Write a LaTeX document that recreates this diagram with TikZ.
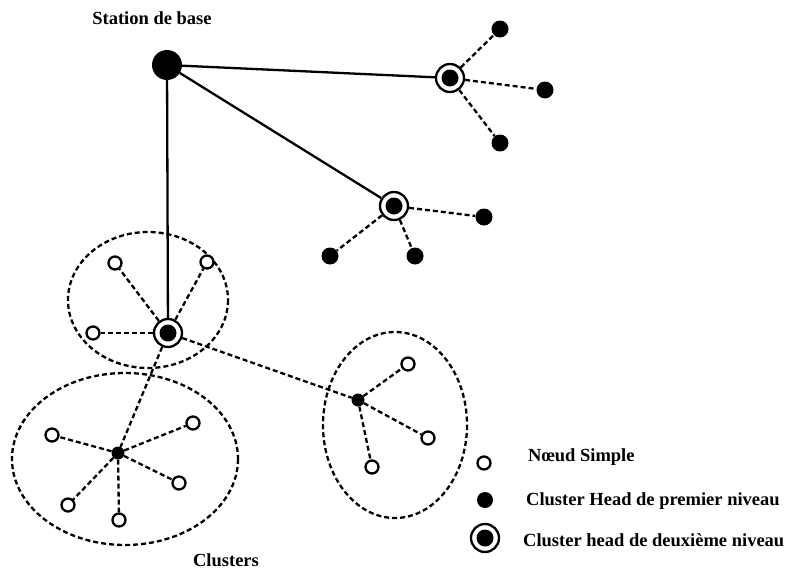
\documentclass[tikz,border=0pt]{standalone}
\usepackage{fontspec}
\setmainfont{Liberation Serif}
\begin{document}
\begin{tikzpicture}[x=1pt,y=-1pt,
  lbl/.style={font=\fontsize{18.5}{22}\selectfont\bfseries, inner sep=0pt},
  simple/.style={circle, draw, line width=2.3pt, fill=white, minimum size=13pt, inner sep=0pt},
  chone/.style={circle, fill=black, minimum size=17pt, inner sep=0pt},
  chsmall/.style={circle, fill=black, minimum size=13pt, inner sep=0pt},
  ringbox/.style={circle, draw, line width=2.3pt, fill=white, minimum size=28pt, inner sep=0pt,
    path picture={\fill[black] (path picture bounding box.center) circle (8.5pt);}},
  base/.style={circle, fill=black, minimum size=30pt, inner sep=0pt},
  link/.style={line width=2.3pt},
  dlink/.style={line width=2.3pt, dash pattern=on 5pt off 3pt},
  cluster/.style={line width=2.3pt, dash pattern=on 5pt off 3pt}
]
\useasboundingbox (0,0) rectangle (796,570);

% cluster outlines
\draw[cluster] (148,300) ellipse [x radius=80, y radius=68];
\draw[cluster] (125,459) ellipse [x radius=113, y radius=86];
\draw[cluster] (395,425) ellipse [x radius=72, y radius=93];

% base station and second-level cluster heads
\node[base] (bs) at (167,65) {};
\node[lbl] (bslbl) at (152,18) {Station de base};
\node[ringbox] (a) at (450,78) {};
\node[ringbox] (b) at (394,206) {};
\node[ringbox] (c) at (168,333) {};

% first-level cluster heads
\node[chone] (a1) at (500,29) {};
\node[chone] (a2) at (545,90) {};
\node[chone] (a3) at (500,143) {};
\node[chone] (b1) at (484,217) {};
\node[chone] (b2) at (330,256) {};
\node[chone] (b3) at (415,256) {};
\node[chsmall] (d) at (358,400) {};
\node[chsmall] (e) at (118,453) {};

% simple nodes
\node[simple] (c1) at (115,263) {};
\node[simple] (c2) at (207,262) {};
\node[simple] (c3) at (93,333) {};
\node[simple] (e1) at (52,435) {};
\node[simple] (e2) at (193,423) {};
\node[simple] (e3) at (179,483) {};
\node[simple] (e4) at (68,505) {};
\node[simple] (e5) at (119,520) {};
\node[simple] (d1) at (408,364) {};
\node[simple] (d2) at (428,438) {};
\node[simple] (d3) at (372,467) {};

% solid links to the base station
\draw[link] (bs) -- (a);
\draw[link] (bs) -- (b);
\draw[link] (bs) -- (c);

% dashed links inside clusters
\foreach \n in {a1,a2,a3} \draw[dlink] (a) -- (\n);
\foreach \n in {b1,b2,b3} \draw[dlink] (b) -- (\n);
\foreach \n in {c1,c2,c3,d,e} \draw[dlink] (c) -- (\n);
\foreach \n in {d1,d2,d3} \draw[dlink] (d) -- (\n);
\foreach \n in {e1,e2,e3,e4,e5} \draw[dlink] (e) -- (\n);

\node[lbl] (clbl) at (226,560) {Clusters};

% legend
\node[simple] (ls) at (484,463) {};
\node[chone, minimum size=16pt] (lf) at (485,500) {};
\node[ringbox] (lt) at (485,538) {};
\node[lbl, anchor=west] (lst) at (528,457) {Nœud Simple};
\node[lbl, anchor=west] (lft) at (526,501) {Cluster Head de premier niveau};
\node[lbl, anchor=west] (ltt) at (523,540) {Cluster head de deuxième niveau};
\end{tikzpicture}
\end{document}
